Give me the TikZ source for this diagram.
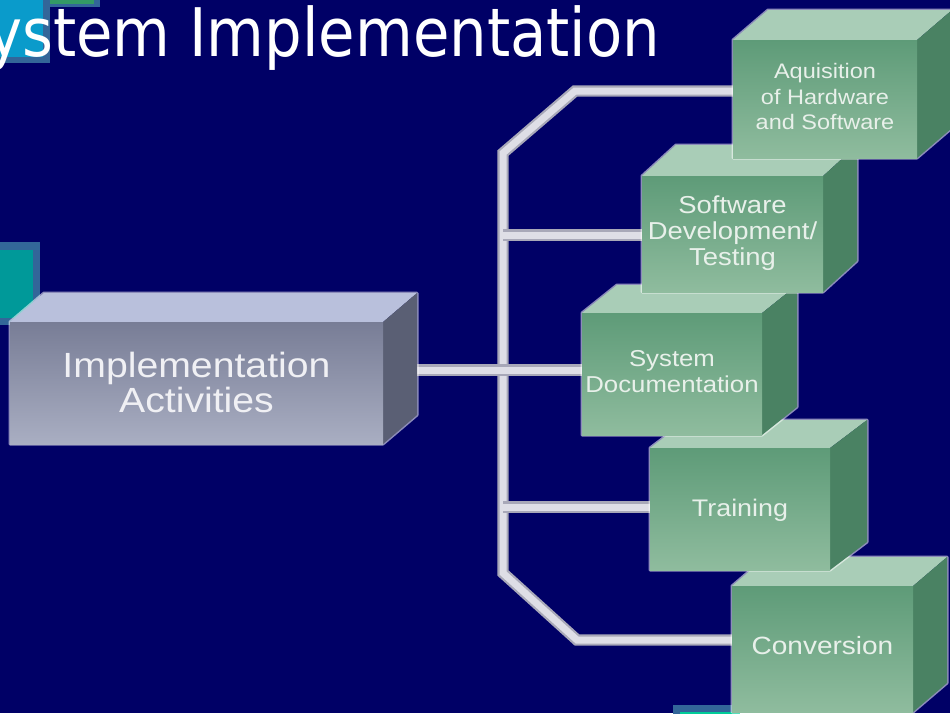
\documentclass[tikz,border=0pt]{standalone}
\usepackage{fontspec}
\usepackage{graphicx}
\setmainfont{Liberation Sans}
\newfontfamily\titlefont{DejaVu Sans}
\usetikzlibrary{calc}
\pgfdeclarelayer{bottom}
\pgfdeclarelayer{pipes}
\pgfsetlayers{bottom,pipes,main}
\definecolor{bg}{HTML}{000066}
\definecolor{steel}{HTML}{336699}
\definecolor{cyanA}{HTML}{0A9BCB}
\definecolor{tealA}{HTML}{009999}
\definecolor{greenA}{HTML}{339966}
\definecolor{greenB}{HTML}{00CC99}
\definecolor{gFrontTop}{HTML}{5E9B78}
\definecolor{gFrontBot}{HTML}{8FBC9E}
\definecolor{gTop}{HTML}{A9CDB7}
\definecolor{gSide}{HTML}{4A8263}
\definecolor{gText}{HTML}{E8F0EA}
\definecolor{iFrontTop}{HTML}{787D96}
\definecolor{iFrontBot}{HTML}{A9AEC2}
\definecolor{iTop}{HTML}{B9C0DC}
\definecolor{iSide}{HTML}{5A5F74}
\definecolor{iText}{HTML}{F0F0F4}
\definecolor{pipeA}{HTML}{A8A8B8}
\definecolor{pipeB}{HTML}{DEDEE6}
\newcommand\btext[3]{\scalebox{1.12}[1]{\fontsize{#1}{#2}\selectfont\begin{tabular}{@{}c@{}}#3\end{tabular}}}
\newcommand\mkcube[9]{%
  \path[#8glow] (#2,#5) -- (#2,#3) -- ({#2+#6},{#3-#7}) -- ({#4+#6},{#3-#7}) -- ({#4+#6},{#5-#7}) -- (#4,#5) -- cycle;
  \path[#8top] (#2,#3) -- ({#2+#6},{#3-#7}) -- ({#4+#6},{#3-#7}) -- (#4,#3) -- cycle;
  \path[#8side] (#4,#3) -- ({#4+#6},{#3-#7}) -- ({#4+#6},{#5-#7}) -- (#4,#5) -- cycle;
  \node[#8front, minimum width={#4-#2}, minimum height={#5-#3}] (#1) at ({(#2+#4)/2},{(#3+#5)/2}) {#9};
}
\tikzset{
  gglow/.style={draw=white, draw opacity=0.55, line width=3pt, line join=round},
  gtop/.style={fill=gTop},
  gside/.style={fill=gSide},
  gfront/.style={top color=gFrontTop, bottom color=gFrontBot, draw=none, inner sep=0pt, outer sep=0pt, text=gText},
  iglow/.style={draw=white, draw opacity=0.55, line width=3pt, line join=round},
  itop/.style={fill=iTop},
  iside/.style={fill=iSide},
  ifront/.style={top color=iFrontTop, bottom color=iFrontBot, draw=none, inner sep=0pt, outer sep=0pt, text=iText},
  pipe/.style={draw=pipeA, line width=2.2pt, double=pipeB, double distance=7pt, line join=miter},
}
\begin{document}
\begin{tikzpicture}[x=1pt,y=-1pt]
\useasboundingbox (0,0) rectangle (950,713);
\begin{pgfonlayer}{bottom}
\fill[bg] (0,0) rectangle (950,713);
% decorative squares
\fill[steel] (-10,-10) rectangle (50,63);
\fill[cyanA] (-10,-10) rectangle (43,57);
\fill[steel] (43,-10) rectangle (100,7);
\fill[greenA] (50,-10) rectangle (94,4);
\fill[steel] (-10,242) rectangle (40,325);
\fill[tealA] (-10,250) rectangle (33,318);
\fill[steel] (673,705) rectangle (740,720);
\fill[greenB] (680,712) rectangle (740,720);
\end{pgfonlayer}
% boxes (bottom first)
\mkcube{cv}{732}{586}{913}{712}{34}{29}{g}{\btext{25}{28}{Conversion}}
\mkcube{tr}{650}{448}{830}{570}{37}{28}{g}{\raisebox{-2pt}[\height][\depth]{\btext{24}{27}{Training}}}
\mkcube{sd}{582}{313}{762}{435}{35}{28}{g}{\btext{23}{26}{System\\Documentation}}
\mkcube{sw}{642}{176}{823}{292}{34}{31}{g}{\btext{24.5}{26}{Software\\Development/\\Testing}}
\mkcube{aq}{733}{40}{917}{158}{35}{30}{g}{\btext{21}{25.5}{Aquisition\\of Hardware\\and Software}}
\mkcube{im}{10}{322}{383}{444}{34}{29}{i}{\raisebox{-4pt}[\height][\depth]{\btext{35}{33}{Implementation\\Activities}}}
% trunk and junction coordinates
\coordinate (t1) at (575,91);
\coordinate (t2) at (503,153);
\coordinate (t3) at (503,573);
\coordinate (t4) at (577,640);
\coordinate (j2) at (503,235);
\coordinate (j3) at (503,370);
\coordinate (j4) at (503,507);
% pipes (behind the boxes)
\begin{pgfonlayer}{pipes}
\draw[pipe] (t1 -| aq.west) -- (t1) -- (t2) -- (t3) -- (t4) -- (t4 -| cv.west);
\draw[pipe] (j2) -- (j2 -| sw.west);
\draw[pipe] (j3 -| im.east) -- (j3 -| sd.west);
\draw[pipe] (j4) -- (j4 -| tr.west);
\end{pgfonlayer}
% title
\node[anchor=base west, inner sep=0pt, text=white] (title) at (-13,56)
  {\scalebox{0.885}[1]{\titlefont\fontsize{67}{70}\selectfont ystem Implementation}};
\end{tikzpicture}
\end{document}
